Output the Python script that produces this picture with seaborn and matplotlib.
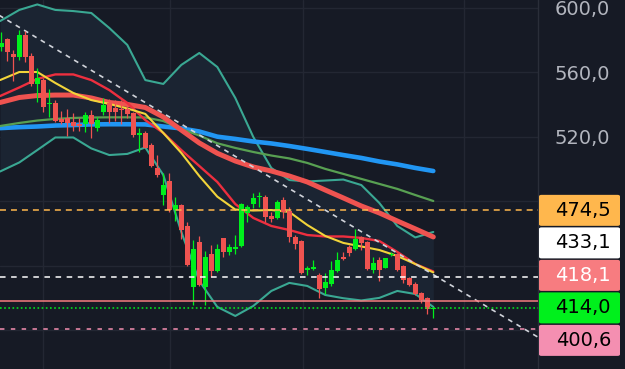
import matplotlib
matplotlib.use("Agg")
import matplotlib.pyplot as plt
import seaborn as sns
import numpy as np
import pandas as pd
from matplotlib.patches import FancyBboxPatch
from matplotlib.ticker import FuncFormatter

# ---------------- data ----------------
opens = [575.8, 580.8, 571.5, 569.6, 583.3, 570.2, 552.9, 555.3, 540.2, 541.1,
         531.3, 531.8, 529.3, 528.2, 527.9, 533.6, 525.8, 535.7, 541.1, 538.0,
         537.4, 537.4, 534.7, 521.4, 522.5, 515.0, 500.6, 484.0, 492.7, 474.7,
         477.8, 464.8, 427.2, 455.1, 426.7, 447.4, 437.1, 457.2, 448.9, 450.4,
         452.6, 473.1, 478.4, 482.7, 483.0, 471.0, 469.6, 480.9, 474.3, 457.8,
         455.7, 437.8, 438.0, 434.4, 426.2, 428.8, 437.1, 445.8, 452.0, 450.5,
         458.2, 455.1, 437.5, 443.7, 439.0, 446.9, 447.4, 440.0, 432.7, 428.8,
         423.4, 420.0, 413.2]
highs = [585.1, 581.4, 574.0, 586.4, 585.7, 572.1, 562.8, 556.6, 549.8, 542.9,
         536.1, 537.4, 534.9, 531.8, 535.5, 536.7, 532.4, 544.2, 543.6, 542.9,
         542.9, 539.8, 535.5, 525.6, 523.7, 516.3, 508.8, 497.5, 497.5, 483.0,
         478.5, 467.3, 456.1, 458.6, 449.3, 453.0, 453.6, 457.4, 453.6, 459.2,
         479.3, 477.8, 485.1, 486.1, 484.0, 473.7, 480.9, 483.0, 476.4, 459.2,
         456.1, 440.0, 443.7, 435.6, 435.8, 443.3, 448.9, 448.9, 453.0, 462.8,
         458.6, 455.7, 445.8, 445.4, 445.0, 448.5, 448.3, 440.6, 433.4, 429.9,
         423.8, 420.6, 414.4]
lows = [573.3, 567.1, 554.7, 567.8, 566.5, 551.6, 541.7, 535.5, 532.4, 529.3,
        528.1, 520.6, 523.7, 523.7, 523.3, 519.4, 523.7, 533.6, 528.7, 529.9,
        528.1, 531.8, 520.0, 510.9, 512.9, 501.4, 495.4, 477.8, 473.7, 467.9,
        456.7, 440.0, 415.8, 427.6, 415.8, 433.4, 436.5, 445.6, 446.8, 447.4,
        451.8, 467.5, 475.8, 476.4, 467.5, 467.5, 469.0, 469.6, 455.1, 450.4,
        435.0, 434.4, 437.5, 420.0, 422.6, 427.6, 436.5, 443.7, 446.2, 449.9,
        449.9, 437.5, 435.5, 430.7, 438.8, 446.2, 436.7, 429.3, 427.6, 422.0,
        416.9, 410.2, 407.6]
closes = [578.3, 572.7, 569.6, 583.3, 569.3, 552.9, 556.6, 538.6, 540.8, 530.1,
          529.5, 528.9, 526.8, 527.0, 533.6, 527.9, 530.5, 539.8, 535.2, 535.7,
          536.7, 534.3, 521.2, 521.9, 513.4, 502.0, 496.4, 490.2, 474.7, 477.8,
          462.3, 440.6, 450.5, 428.2, 445.4, 437.1, 450.4, 448.9, 451.6, 451.6,
          478.4, 476.4, 482.0, 483.0, 470.6, 469.0, 479.9, 473.7, 457.8, 453.6,
          435.5, 438.1, 439.6, 425.5, 430.3, 437.5, 443.7, 444.3, 448.3, 456.6,
          454.4, 438.1, 442.0, 437.8, 444.8, 447.3, 437.8, 431.3, 428.2, 422.6,
          418.9, 413.1, 414.0]

# indicator lines, sampled every 3 bars
line_idx = [-0.2, 3, 6, 9, 12, 15, 18, 21, 24, 27, 30, 33, 36, 39, 42, 45, 48,
            51, 54, 57, 60, 63, 66, 69, 72]
ma_blue = [525.5, 526.1, 526.5, 527.1, 527.4, 527.8, 527.9, 527.9, 527.8, 526.5,
           525.3, 523.4, 520.2, 518.8, 517.2, 516.0, 514.4, 512.6, 510.7, 508.8,
           507.0, 504.8, 503.0, 500.8, 498.9]
ma_green = [526.8, 528.7, 530.2, 531.2, 531.8, 532.1, 532.2, 532.2, 532.1, 529.9,
            525.0, 520.9, 516.1, 513.2, 510.7, 508.5, 506.7, 503.9, 500.2, 497.1,
            494.0, 490.9, 487.8, 484.0, 480.3]
ma_red_thick = [541.4, 544.5, 545.7, 546.0, 546.0, 544.2, 541.4, 540.2, 538.3, 532.4,
                524.3, 516.3, 509.9, 505.1, 501.4, 498.9, 495.8, 492.1, 487.1, 482.2,
                477.2, 472.9, 467.9, 463.0, 458.0]
ma_red_thin = [545.4, 550.7, 556.0, 558.8, 558.8, 555.3, 549.1, 541.1, 530.5, 522.5,
               511.9, 502.0, 492.1, 478.4, 469.8, 464.8, 462.3, 459.2, 458.3, 458.3,
               457.4, 455.5, 448.7, 441.2, 436.6]
ma_yellow = [555.3, 560.3, 560.3, 553.5, 547.3, 542.9, 540.5, 537.7, 534.3, 522.5,
             510.1, 495.8, 483.0, 475.0, 474.4, 474.7, 473.5, 465.4, 458.6, 454.3,
             452.1, 449.9, 446.2, 441.2, 436.0]
bb_upper = [591.9, 598.8, 602.2, 598.8, 598.1, 596.9, 587.6, 577.1, 555.3, 552.9,
            564.7, 572.1, 563.4, 544.2, 520.0, 500.8, 493.3, 492.4, 493.0, 493.6,
            490.2, 479.1, 464.8, 457.7, 461.1]
bb_lower = [498.6, 504.2, 511.9, 519.7, 519.7, 512.9, 508.8, 509.5, 513.5, 496.4,
            461.1, 430.7, 414.6, 409.0, 415.2, 424.5, 429.5, 427.6, 422.0, 420.0,
            418.6, 420.2, 424.5, 422.6, 414.6]

trend_idx = [-0.5, 89.6]
trend_price = [595.8, 395.5]

level_prices = [474.5, 433.1, 418.1, 414.0, 400.6]
level_labels = ["474,5", "433,1", "418,1", "414,0", "400,6"]
level_colors = ["#ffb74d", "#ffffff", "#f77c80", "#00f01c", "#f48fb1"]
level_text_colors = ["#000000", "#000000", "#ffffff", "#000000", "#000000"]
level_styles = [(0, (4.3, 3.6)), (0, (4.0, 4.0)), "-", (0, (1.2, 1.8)), (0, (3.2, 4.6))]

y_ticks = [400, 440, 480, 520, 560, 600]
y_tick_shown = [480, 520, 560, 600]   # 400 and 440 sit fully behind the price boxes
vgrid_idx = [6.95, 28.1, 50.3, 77.1]

# ---------------- style ----------------
BG = "#161a25"
FILL = "#1b2432"
GRID = "#232733"
UP = "#00f01c"
DOWN = "#ef5350"

sns.set_theme(style="dark")
plt.rcParams["font.family"] = ["DejaVu Sans"]
plt.rcParams["lines.scale_dashes"] = False

W, H = 625, 369
fig = plt.figure(figsize=(W / 100, H / 100), dpi=100, facecolor=BG)
ax = fig.add_axes([0, 0, 538 / W, 1])
ax.set_facecolor(BG)
ax.set_xlim(-0.217, 89.45)
ax.set_ylim(376.1, 604.96)

for s in ["top", "left", "bottom"]:
    ax.spines[s].set_visible(False)
ax.spines["right"].set_color("#2a2e39")
ax.spines["right"].set_linewidth(1.0)

# grid
ax.set_yticks(y_ticks)
ax.set_xticks([])
for yv in y_ticks:
    ax.axhline(yv, color=GRID, lw=1.0, zorder=0.5)
for xv in vgrid_idx:
    ax.axvline(xv, color=GRID, lw=1.0, zorder=0.5)

ax.yaxis.tick_right()
ax.yaxis.set_major_formatter(FuncFormatter(
    lambda v, _: f"{v:.1f}".replace(".", ",") if round(v) in y_tick_shown else ""))
ax.tick_params(axis="y", length=0, pad=12, labelsize=14, labelcolor="#b2b5be")

# Bollinger fill
ax.fill_between(line_idx, bb_lower, bb_upper, color=FILL, lw=0, zorder=1)

# indicator lines with seaborn
lines_df = pd.DataFrame({"idx": line_idx, "blue": ma_blue, "green": ma_green,
                         "red_thick": ma_red_thick, "red_thin": ma_red_thin,
                         "yellow": ma_yellow, "upper": bb_upper, "lower": bb_lower})
specs = [("upper", "#3aa893", 1.5), ("lower", "#3aa893", 1.5),
         ("blue", "#2196f3", 3.3), ("green", "#58a052", 1.6),
         ("red_thick", "#ef5350", 3.6), ("red_thin", "#ee2f3f", 1.7),
         ("yellow", "#f2d43a", 1.5)]
for i, (col, c, lw) in enumerate(specs):
    sns.lineplot(data=lines_df, x="idx", y=col, ax=ax, color=c, linewidth=lw,
                 sort=False, zorder=2 + i * 0.1, solid_capstyle="round")

# candles
idx = np.arange(len(opens))
o = np.array(opens); c = np.array(closes); h = np.array(highs); l = np.array(lows)
colors = [UP if cc >= oo else DOWN for oo, cc in zip(o, c)]
ax.vlines(idx, l, h, colors=colors, lw=0.9, zorder=4)
body_bottom = np.minimum(o, c)
body_h = np.maximum(np.abs(c - o), 0.8)
ax.bar(idx, body_h, bottom=body_bottom, width=0.8, color=colors, lw=0, zorder=4.5)

# trend line
ax.plot(trend_idx, trend_price, color="#d0d3da", lw=1.2, ls=(0, (3.5, 3.5)), zorder=3.5)

# price level lines
for p, col, ls in zip(level_prices, level_colors, level_styles):
    ax.axhline(p, color=col, lw=1.1, ls=ls, zorder=5)

ax.set_xlabel(""); ax.set_ylabel("")

# price label boxes on the scale (stacked, anchored at last price)
fig.canvas.draw()
disp_y = [ax.transData.transform((0, p))[1] for p in level_prices]  # bottom-up pixels
anchor = 3
pitch = 32.5
pos = list(disp_y)
for k in range(anchor - 1, -1, -1):
    pos[k] = max(disp_y[k], pos[k + 1] + pitch)
for k in range(anchor + 1, len(pos)):
    pos[k] = min(disp_y[k], pos[k - 1] - pitch)

bx0, bx1, bh = 539, 620, 31
for yc, lab, bg, tc in zip(pos, level_labels, level_colors, level_text_colors):
    patch = FancyBboxPatch(((bx0) / W, (yc - bh / 2) / H), (bx1 - bx0) / W, bh / H,
                           boxstyle="round,pad=0,rounding_size=0.004",
                           transform=fig.transFigure, facecolor=bg, edgecolor="none",
                           zorder=10)
    fig.add_artist(patch)
    fig.text(611 / W, yc / H, lab, ha="right", va="center", fontsize=14,
             color=tc, zorder=11)

fig.savefig("out.png", dpi=100, facecolor=BG)
